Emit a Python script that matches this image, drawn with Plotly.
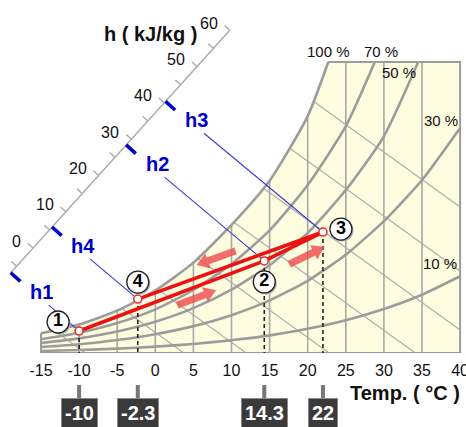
import math
import plotly.graph_objects as go

# ---------------- data ----------------
temp_ticks = [-15, -10, -5, 0, 5, 10, 15, 20, 25, 30, 35, 40]
temp_labels = [str(t) for t in temp_ticks]

# relative-humidity curves: temperature (deg C) / humidity ratio (g/kg)
rh100_t = [-15, -10, -5, 0, 5, 10, 15, 20, 22.7]
rh100_w = [1.18, 1.70, 2.52, 3.72, 5.38, 7.62, 10.25, 14.1, 17.32]
rh70_t = [-15, -10, -5, 0, 5, 10, 15, 20, 25, 28.8]
rh70_w = [0.82, 1.20, 1.78, 2.60, 3.75, 5.30, 7.30, 10.0, 13.5, 17.32]
rh50_t = [-15, -10, -5, 0, 5, 10, 15, 20, 25, 30, 34.5]
rh50_w = [0.59, 0.87, 1.28, 1.86, 2.67, 3.77, 5.22, 7.15, 9.7, 12.9, 17.32]
rh30_t = [-15, -10, -5, 0, 5, 10, 15, 20, 25, 30, 35, 40]
rh30_w = [0.35, 0.52, 0.77, 1.12, 1.60, 2.25, 3.13, 4.30, 5.85, 7.85, 10.3, 13.4]
rh10_t = [-15, -10, -5, 0, 5, 10, 15, 20, 25, 30, 35, 40]
rh10_w = [0.12, 0.18, 0.26, 0.38, 0.54, 0.76, 1.05, 1.44, 1.95, 2.62, 3.47, 4.57]
rh_labels = ["100 %", "70 %", "50 %", "30 %", "10 %"]

w_top = 17.32           # top edge of the chart (g/kg)
grid_t = [-10, -5, 0, 5, 10, 15, 20, 25, 30, 35]

# diagonal lines: start points on the saturation curve
diag_t = [-13.3, -4.4, 0.3, 5.6, 10.3, 14.2, 17.6, 20.7]
diag_w = [1.35, 2.66, 3.80, 5.62, 7.78, 9.8, 12.2, 15.0]

# enthalpy scale (kJ/kg)
h_minor = list(range(-5, 61, 5))
h_major = [0, 10, 20, 30, 40, 50, 60]
h_span = [-7, 60]

# process states
state_names = ["1", "2", "3", "4"]
state_t = [-10, 14.3, 22, -2.3]
state_w = [1.31, 5.48, 7.20, 3.21]
state_h = [-6.8, 28.4, 40.4, 5.8]

# ---------------- layout constants ----------------
W, H = 466, 427
PLOT_H = 353
X0_PX = 41.0          # pixel of -15 C
PX_T = 7.62           # px per deg C
PX_W = 16.8           # px per g/kg
x_range = [-15 - X0_PX / PX_T, -15 + (W - X0_PX) / PX_T]
y_range = [0, PLOT_H / PX_W]

H0_PX = (33.0, 248.0)       # position of h = 0 on the oblique scale
H_STEP = (3.28, -3.63)      # px per kJ/kg along the scale
DIAG_SLOPE_PX = 0.72

FONT = "Liberation Sans, Arial, sans-serif"
GRAY = "#9c9c9c"
CREAM = "#FFFDE0"
BLUE = "#0000CC"
RED = "#EE1111"


def to_px(t, w):
    return (X0_PX + (t + 15) * PX_T, PLOT_H - w * PX_W)


def to_data(x, y):
    return (-15 + (x - X0_PX) / PX_T, (PLOT_H - y) / PX_W)


def h_px(h):
    return (H0_PX[0] + h * H_STEP[0], H0_PX[1] + h * H_STEP[1])


def py_paper(ypx):
    return (PLOT_H - ypx) / PLOT_H


def px_paper(t):
    return (t - x_range[0]) / (x_range[1] - x_range[0])


def seg_trace(segs, color, width, dash=None):
    xs, ys = [], []
    for (a, b) in segs:
        xs += [a[0], b[0], None]
        ys += [a[1], b[1], None]
    return go.Scatter(x=xs, y=ys, mode="lines", hoverinfo="skip",
                      line=dict(color=color, width=width, dash=dash))


fig = go.Figure()

# chart background
fill_t = rh100_t + [40, 40, -15]
fill_w = rh100_w + [w_top, 0, 0]
fig.add_trace(go.Scatter(x=fill_t, y=fill_w, mode="lines", fill="toself",
                         fillcolor=CREAM, line=dict(width=0), hoverinfo="skip"))

# diagonal lines
m = -DIAG_SLOPE_PX * PX_T / PX_W
segs = []
for t0, w0 in zip(diag_t, diag_w):
    tb = t0 + w0 / (-m)
    if tb <= 40:
        segs.append(((t0, w0), (tb, 0)))
    else:
        segs.append(((t0, w0), (40, w0 + m * (40 - t0))))
fig.add_trace(seg_trace(segs, "#adadad", 1.2))

# vertical grid lines
sat = dict(zip(rh100_t, rh100_w))
segs = [((t, 0), (t, sat.get(t, w_top))) for t in grid_t]
fig.add_trace(seg_trace(segs, "#a8a8a8", 1.6))

# RH curves
for ts, ws in [(rh100_t, rh100_w), (rh70_t, rh70_w), (rh50_t, rh50_w),
               (rh30_t, rh30_w), (rh10_t, rh10_w)]:
    fig.add_trace(go.Scatter(x=ts, y=ws, mode="lines", hoverinfo="skip",
                             line=dict(color=GRAY, width=2.6, shape="spline", smoothing=0.6)))

# outline
fig.add_trace(go.Scatter(x=[-15, -15, 40, 40, rh100_t[-1]],
                         y=[rh100_w[0], 0, 0, w_top, w_top], mode="lines",
                         hoverinfo="skip", line=dict(color=GRAY, width=2)))

# oblique enthalpy scale
a0 = to_data(*h_px(h_span[0]))
a1 = to_data(*h_px(h_span[1]))
fig.add_trace(seg_trace([(a0, a1)], "#aaaaaa", 1.4))
L = math.hypot(*H_STEP)
u = (H_STEP[0] / L, H_STEP[1] / L)
nrm = (u[1], -u[0])  # up-left
segs = []
for h in h_minor:
    bx, by = h_px(h)
    segs.append((to_data(bx, by), to_data(bx + nrm[0] * 7, by + nrm[1] * 7)))
fig.add_trace(seg_trace(segs, "#aaaaaa", 1.4))
for h in h_major:
    bx, by = h_px(h)
    tx, ty = to_data(bx - 10, by - 7)
    fig.add_annotation(x=tx, y=ty, text=str(h), showarrow=False, xanchor="right",
                       yanchor="middle", font=dict(family=FONT, size=16, color="#111"))
fig.add_annotation(x=150.5 / W, y=py_paper(34), xref="paper", yref="paper",
                   text="<b>h ( kJ/kg )</b>", showarrow=False, xanchor="center",
                   yanchor="middle", font=dict(family=FONT, size=20, color="#111"))

# blue enthalpy indicators
tick_segs, line_segs = [], []
for i in range(len(state_t)):
    ax_, ay_ = h_px(state_h[i])
    px_, py_ = to_px(state_t[i], state_w[i])
    dx, dy = px_ - ax_, py_ - ay_
    d = math.hypot(dx, dy)
    ux, uy = dx / d, dy / d
    tick_segs.append((to_data(ax_, ay_), to_data(ax_ - nrm[0] * 13, ay_ - nrm[1] * 13)))
    line_segs.append((to_data(ax_ + ux * 50, ay_ + uy * 50), (state_t[i], state_w[i])))
    lx, ly = to_data(ax_ + 31, ay_ + 19)
    fig.add_annotation(x=lx, y=ly, text="<b>h" + state_names[i] + "</b>", showarrow=False,
                       xanchor="center", yanchor="middle",
                       font=dict(family=FONT, size=20, color=BLUE))
fig.add_trace(seg_trace(line_segs, "#3a3ad8", 1.1))
fig.add_trace(seg_trace(tick_segs, BLUE, 3.5))

# dashed drop lines
segs = [((t, w), (t, 0)) for t, w in zip(state_t, state_w)]
fig.add_trace(seg_trace(segs, "#222222", 1.6, dash="4px,3px"))

# process path 1-2-3-4
fig.add_trace(go.Scatter(x=state_t, y=state_w, mode="lines", hoverinfo="skip",
                         line=dict(color=RED, width=3.6)))

# direction arrows: (from state, to state, start fraction, end fraction, px offset)
arrows = [(0, 1, 0.51, 0.72, 10.5), (2, 3, 0.45, 0.66, -12.0), (1, 2, 0.32, 0.92, 14.0)]
for i0, i1, f0, f1, off in arrows:
    p0 = to_px(state_t[i0], state_w[i0])
    p1 = to_px(state_t[i1], state_w[i1])
    dx, dy = p1[0] - p0[0], p1[1] - p0[1]
    d = math.hypot(dx, dy)
    ux, uy = dx / d, dy / d
    nx, ny = -uy, ux
    if ny < 0:
        nx, ny = -nx, -ny  # screen-downward normal
    tail = (p0[0] + dx * f0 + nx * off, p0[1] + dy * f0 + ny * off)
    head = (p0[0] + dx * f1 + nx * off, p0[1] + dy * f1 + ny * off)
    hl, sw, hw = 12.0, 3.6, 8.0
    base = (head[0] - ux * hl, head[1] - uy * hl)
    pts = [(tail[0] + nx * sw, tail[1] + ny * sw), (base[0] + nx * sw, base[1] + ny * sw),
           (base[0] + nx * hw, base[1] + ny * hw), head,
           (base[0] - nx * hw, base[1] - ny * hw), (base[0] - nx * sw, base[1] - ny * sw),
           (tail[0] - nx * sw, tail[1] - ny * sw)]
    dpts = [to_data(*p) for p in pts] + [to_data(*pts[0])]
    fig.add_trace(go.Scatter(x=[p[0] for p in dpts], y=[p[1] for p in dpts], mode="lines",
                             fill="toself", fillcolor="rgba(238,84,84,0.85)",
                             line=dict(width=0), hoverinfo="skip"))

# state markers
fig.add_trace(go.Scatter(x=state_t, y=state_w, mode="markers", hoverinfo="skip",
                         marker=dict(size=8, color="white", line=dict(color="#e83030", width=1.6))))

# circled state numbers
lab_off = [(-21, -9), (0, 21), (18, -3), (0, -17)]
lx, ly = [], []
for i in range(len(state_t)):
    p = to_px(state_t[i], state_w[i])
    q = to_data(p[0] + lab_off[i][0], p[1] + lab_off[i][1])
    lx.append(q[0])
    ly.append(q[1])
fig.add_trace(go.Scatter(x=[x + 1.5 / PX_T for x in lx], y=[y - 1.5 / PX_W for y in ly],
                         mode="markers", hoverinfo="skip",
                         marker=dict(size=22, color="#b0b0b0", line=dict(width=0))))
fig.add_trace(go.Scatter(x=lx, y=ly, mode="markers+text", hoverinfo="skip",
                         text=["<b>" + s + "</b>" for s in state_names],
                         textposition="middle center",
                         textfont=dict(family=FONT, size=18, color="black"),
                         marker=dict(size=22, color="white", line=dict(color="#222", width=1.3))))

# RH labels
ends = [(rh100_t[-1], rh100_w[-1]), (rh70_t[-1], rh70_w[-1]), (rh50_t[-1], rh50_w[-1]),
        (rh30_t[-1], rh30_w[-1]), (rh10_t[-1], rh10_w[-1])]
rh_pos = [(0, 0, "center", "bottom"), (6, 0, "center", "bottom"), (0, 0, "right", "top"),
          (0, -7, "right", "middle"), (-1, -13, "right", "middle")]
for lab, (t, w), (ox, oy, xa, ya) in zip(rh_labels, ends, rh_pos):
    p = to_px(t, w)
    q = to_data(p[0] + ox, p[1] + oy)
    fig.add_annotation(x=q[0], y=q[1], text=lab, showarrow=False, xanchor=xa, yanchor=ya,
                       font=dict(family=FONT, size=15, color="#111"))

# value boxes under the axis
for t in state_t:
    xp = px_paper(t)
    fig.add_shape(type="line", xref="paper", yref="paper", x0=xp, x1=xp,
                  y0=py_paper(385), y1=py_paper(398), line=dict(color="#777", width=4))
    fig.add_annotation(x=xp, y=py_paper(413), xref="paper", yref="paper",
                       text="<b>" + f"{t:g}" + "</b>", showarrow=False,
                       xanchor="center", yanchor="middle",
                       bgcolor="#3a3a3a", bordercolor="#8a8a8a", borderwidth=1, borderpad=3,
                       font=dict(family=FONT, size=20, color="white"))

fig.add_annotation(x=462 / W, y=py_paper(393), xref="paper", yref="paper",
                   text="<b>Temp. ( °C )</b>", showarrow=False, xanchor="right",
                   yanchor="middle", font=dict(family=FONT, size=20, color="#111"))

fig.update_layout(
    width=W, height=H, autosize=False,
    margin=dict(l=0, r=0, t=0, b=H - PLOT_H, pad=0, autoexpand=False),
    paper_bgcolor="white", plot_bgcolor="white", showlegend=False,
    xaxis=dict(range=x_range, tickvals=temp_ticks, ticktext=temp_labels,
               showgrid=False, zeroline=False, showline=False, ticks="",
               automargin=False, ticklabeloverflow="allow",
               ticklabelstandoff=6, tickfont=dict(family=FONT, size=16, color="#111"),
               fixedrange=True),
    yaxis=dict(range=y_range, visible=False, fixedrange=True, automargin=False),
)

fig.write_html("out.html", config={"displayModeBar": False},
               post_script="document.body.style.margin='0px';document.body.style.overflow='hidden';")
